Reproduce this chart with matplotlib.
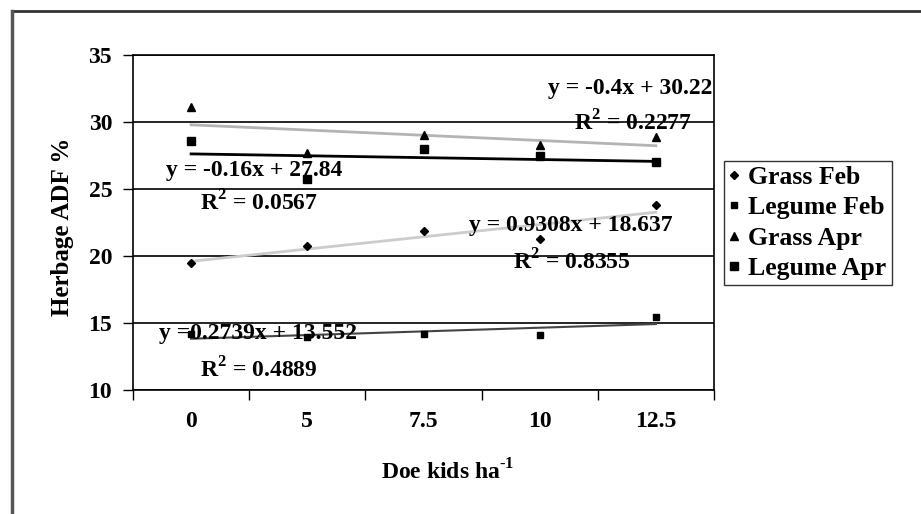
import numpy as np
import matplotlib
matplotlib.use("Agg")
from matplotlib import pyplot as plt
from matplotlib.lines import Line2D

plt.rcParams['font.family'] = ['Liberation Serif', 'DejaVu Serif']
plt.rcParams['font.weight'] = 'bold'
plt.rcParams['mathtext.fontset'] = 'custom'
plt.rcParams['mathtext.rm'] = 'Liberation Serif:bold'
plt.rcParams['mathtext.bf'] = 'Liberation Serif:bold'

# 数据
categories = ["0", "5", "7.5", "10", "12.5"]
grass_feb = [19.48, 20.75, 21.87, 21.27, 23.8]
legume_feb = [14.18, 13.94, 14.18, 14.1, 15.47]
grass_apr = [31.15, 27.7, 29.0, 28.3, 28.9]
legume_apr = [28.55, 25.75, 27.95, 27.45, 27.0]

# 趋势线方程文字
eq_labels = ["y = -0.4x + 30.22", "y = -0.16x + 27.84",
             "y = 0.9308x + 18.637", "y =0.2739x + 13.552"]
r2_labels = ["R$^2$ = 0.2277", "R$^2$ = 0.0567", "R$^2$ = 0.8355", "R$^2$ = 0.4889"]

fig = plt.figure(figsize=(9.21, 5.14), dpi=100)
ax = fig.add_axes([133/921, 1-390/514, 581/921, 335/514])

x = np.arange(len(categories))

# 趋势线
def trend(y, color, lw):
    k, b = np.polyfit(x + 1, y, 1)
    ax.plot(x, k * (x + 1) + b, color=color, lw=lw, zorder=3)

trend(grass_apr, "#b4b4b4", 2)
trend(legume_apr, "#000000", 2)
trend(grass_feb, "#cccccc", 2)
trend(legume_feb, "#444444", 1.5)

# 散点
ax.plot(x, grass_feb, "D", color="black", ms=4, ls="none", zorder=4)
ax.plot(x, legume_feb, "s", color="black", ms=4, ls="none", zorder=4)
ax.plot(x, grass_apr, "^", color="black", ms=6, ls="none", zorder=4)
ax.plot(x, legume_apr, "s", color="black", ms=6, ls="none", zorder=4)

# 文字
tkw = dict(fontsize=17, fontweight="bold", ha="center", va="center", zorder=5)
ax.text(3.78, 32.5, eq_labels[0], **tkw)
ax.text(3.80, 29.9, r2_labels[0], **tkw)
ax.text(0.54, 26.4, eq_labels[1], **tkw)
ax.text(0.58, 23.95, r2_labels[1], **tkw)
ax.text(3.27, 22.24, eq_labels[2], **tkw)
ax.text(3.28, 19.55, r2_labels[2], **tkw)
ax.text(0.58, 14.25, eq_labels[3], **tkw)
ax.text(0.58, 11.5, r2_labels[3], **tkw)

# 坐标轴
ax.set_xlim(-0.5, 4.5)
ax.set_ylim(10, 35)
ax.set_yticks([10, 15, 20, 25, 30, 35])
ax.set_yticklabels(["10", "15", "20", "25", "30", "35"], fontsize=17, fontweight="bold")
ax.set_xticks(np.arange(-0.5, 5, 1))
ax.set_xticklabels([])
ax.set_xticks(x, minor=True)
ax.set_xticklabels(categories, minor=True, fontsize=17, fontweight="bold")
ax.tick_params(axis="x", which="minor", length=0, pad=15)
ax.tick_params(axis="x", which="major", direction="out", length=7, width=1)
ax.tick_params(axis="y", direction="out", length=7, width=1, pad=8)
ax.yaxis.grid(True, color="black", lw=1.2)
ax.set_axisbelow(True)
for s in ax.spines.values():
    s.set_color("black")
    s.set_linewidth(1.2)

ax.set_ylabel("Herbage ADF %", fontsize=18, fontweight="bold")
ax.yaxis.set_label_coords((74 - 133) / 581, (390 - 227) / 335)
ax.set_xlabel(r"Doe kids ha$^{\text{-1}}$", fontsize=17, fontweight="bold")
ax.xaxis.set_label_coords((448 - 133) / 581, -(459 - 390) / 335)

# 图例
handles = [Line2D([], [], marker="D", color="black", ms=4, ls="none"),
           Line2D([], [], marker="s", color="black", ms=4, ls="none"),
           Line2D([], [], marker="^", color="black", ms=6, ls="none"),
           Line2D([], [], marker="s", color="black", ms=6, ls="none")]
leg = fig.legend(handles, ["Grass Feb", "Legume Feb", "Grass Apr", "Legume Apr"],
                 loc="center left", bbox_to_anchor=(724/921, 1-223/514),
                 prop=dict(family="Liberation Serif", weight="bold", size=18.5),
                 frameon=True, fancybox=False, handlelength=0.4, handletextpad=0.35,
                 labelspacing=0.28, borderpad=0.2, borderaxespad=0)
leg.get_frame().set_edgecolor("black")
leg.get_frame().set_linewidth(1)

# 外框
fig.add_artist(Line2D([11.5/921, 1], [1-10.5/514, 1-10.5/514], color="#333333", lw=2,
                      transform=fig.transFigure))
fig.add_artist(Line2D([11.5/921, 11.5/921], [0, 1-10.5/514], color="#555555", lw=2.5,
                      transform=fig.transFigure))

fig.savefig("out.png", dpi=100)
